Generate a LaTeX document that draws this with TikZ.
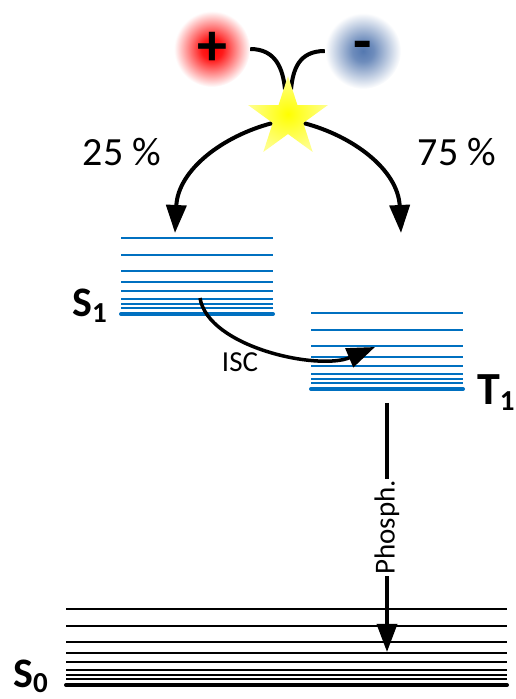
\documentclass[tikz,border=0pt]{standalone}
\usepackage{fontspec}
\setmainfont{Carlito}
\usetikzlibrary{arrows.meta,shapes.geometric,backgrounds}
\definecolor{levelblue}{RGB}{0,112,192}
\definecolor{blobblue}{RGB}{84,120,176}
\pgfdeclareradialshading{redglow}{\pgfpoint{0bp}{0bp}}{color(0bp)=(red); color(7bp)=(red!90!white); color(25bp)=(white); color(50bp)=(white)}
\pgfdeclareradialshading{blueglow}{\pgfpoint{0bp}{0bp}}{color(0bp)=(blobblue); color(7bp)=(blobblue!85!white); color(25bp)=(white); color(50bp)=(white)}
\newcommand{\subidx}[1]{\raisebox{-6pt}{\fontsize{29}{30}\selectfont #1}}
\tikzset{glow/.style={
    circle, minimum size=76pt, inner sep=0pt, shading=#1,
    font=\fontsize{60}{60}\selectfont\bfseries
  },
  exciton/.style={
    star, star points=5, star point ratio=2.618,
    minimum size=84pt, inner sep=0pt,
    shading=radial, inner color=yellow, outer color=yellow!45!white
  },
  sublevel/.style={line width=1.5pt},
  baselevel/.style={line width=4pt, line cap=round},
  transfer/.style={line width=4pt, -{Triangle[length=28pt,width=20pt]}},
  percent/.style={font=\fontsize{40}{44}\selectfont},
  statelabel/.style={inner sep=0pt, font=\fontsize{42}{44}\selectfont\bfseries},
  pathlabel/.style={font=\fontsize{29}{30}\selectfont}
}
\begin{document}
\begin{tikzpicture}[x=1pt,y=1pt]
  \useasboundingbox (0,0) rectangle (516,699);
  % charges and exciton
  \node[glow=redglow] (hole) at (212,650) {+};
  \node[glow=blueglow] (electron) at (363,648) {-};
  \node[exciton] (exciton) at (288,581) {};
  % S1 levels
  \begin{scope}[shift={(121,385)}]
    \foreach \dy in {76,59,43,32,23,15,10,6}
      \draw[sublevel,levelblue] (0,\dy) -- (152,\dy);
    \draw[baselevel,levelblue] (0,0) -- (152,0);
  \end{scope}
  % T1 levels
  \begin{scope}[shift={(311,310)}]
    \foreach \dy in {76,59,43,32,23,15,10,6}
      \draw[sublevel,levelblue] (0,\dy) -- (152,\dy);
    \draw[baselevel,levelblue] (0,0) -- (152,0);
  \end{scope}
  % S0 levels
  \begin{scope}[shift={(66,14)}]
    \foreach \dy in {76,59,43,32,23,15,10,6}
      \draw[sublevel] (0,\dy) -- (441,\dy);
    \draw[baselevel] (0,0) -- (441,0);
  \end{scope}
  \node[statelabel, anchor=base east] (s1 label) at (107,382) {S\subidx{1}};
  \node[statelabel, anchor=base west, font=\fontsize{46}{48}\selectfont\bfseries] (t1 label) at (477,294) {T\subidx{1}};
  \node[statelabel, anchor=base west] (s0 label) at (13,12) {S\subidx{0}};
  \node[percent] (singlet share) at (122,547) {25 \%};
  \node[percent] (triplet share) at (457,547) {75 \%};
  \coordinate (s1 in) at (175,466);
  \coordinate (t1 in) at (401,466);
  \coordinate (isc start) at (200,401);
  \coordinate (isc end) at (375,352);
  \coordinate (t1 out) at (387,296);
  \coordinate (s0 in) at (387,47);
  \begin{pgfonlayer}{background}
    \draw[line width=4pt] (hole.east) .. controls +(26,0) and +(-2,20) .. ([xshift=-3pt,yshift=-14pt]exciton.outer point 1);
    \draw[line width=4pt] (electron.west) .. controls +(-26,0) and +(2,20) .. ([xshift=3pt,yshift=-14pt]exciton.outer point 1);
    \draw[transfer] (exciton.inner point 2) .. controls +(-50,-13) and +(3,63) .. (s1 in);
    \draw[transfer] (exciton.inner point 4) .. controls +(50,-13) and +(-3,63) .. (t1 in);
  \end{pgfonlayer}
  \draw[transfer,line width=3.5pt] (isc start) .. controls (208,352) and (318,328) .. (isc end);
  \node[pathlabel] (isc label) at (240,337) {ISC};
  \draw[transfer,line width=3.5pt] (t1 out) -- node[pathlabel, rotate=90, fill=white, inner sep=1pt] (phosph label) {Phosph.} (s0 in);
\end{tikzpicture}
\end{document}
